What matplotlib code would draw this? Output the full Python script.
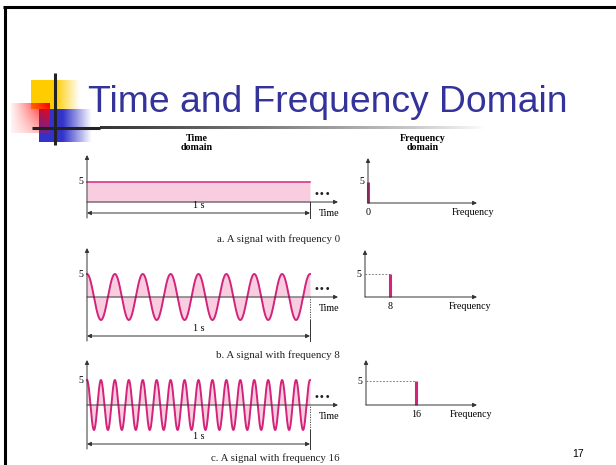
import numpy as np
import matplotlib
matplotlib.use("Agg")
import matplotlib.pyplot as plt

# chart data
freqs = [0, 8, 16]
amplitude = 5
duration = 1.0
captions = ["a. A signal with frequency 0",
            "b. A signal with frequency 8",
            "c. A signal with frequency 16"]
title = "Time and Frequency Domain"
page_no = "17"

W, H = 616, 465
MAGENTA = "#d4237a"
PINK = "#f9cde0"
AXC = "#333333"
SERIF = "Liberation Serif"
FS = 7.2

fig = plt.figure(figsize=(W / 100, H / 100), dpi=100)

# slide decoration in pixel space
deco = fig.add_axes([0, 0, 1, 1])
deco.axis("off")


def grad_img(ax, color, alpha, extent):
    rgba = np.zeros(alpha.shape + (4,))
    rgba[..., :3] = matplotlib.colors.to_rgb(color)
    rgba[..., 3] = alpha
    ax.imshow(rgba, extent=extent, aspect="auto", interpolation="bilinear", zorder=1)


xx = np.linspace(0, 1, 60)
yy = np.linspace(0, 1, 40)[:, None]
# yellow square
a = np.clip((1 - xx) / 0.5, 0, 1) * np.ones_like(yy)
grad_img(deco, "#ffcc00", a, (31, 80, 109, 81))
# blue square
a = np.clip((1 - xx) / 0.55, 0, 1) * np.ones_like(yy)
grad_img(deco, "#3333cc", a, (39, 92, 142, 109))
# red square
a = np.clip(xx ** 1.1 * (1 - 0.7 * yy) + 0.05, 0, 1)
grad_img(deco, "#ff0000", a, (11, 50, 133, 103))
# gradient rule under the title
a = np.linspace(1, 0, 200)[None, :] ** 0.8 * np.ones((3, 1))
grad_img(deco, "#333333", a, (100, 485, 129.5, 126.5))
deco.plot([32, 100], [128, 128], color="#222222", lw=2.2, solid_capstyle="butt", zorder=2)
deco.plot([55, 55], [73, 145], color="#222222", lw=2.2, solid_capstyle="butt", zorder=2)
# slide border (left and top)
deco.plot([4.5, 4.5], [465, 6], color="black", lw=2.2, solid_capstyle="butt")
deco.plot([3, 616], [7.5, 7.5], color="black", lw=2.2, solid_capstyle="butt")

deco.text(88, 112, title, fontsize=26.8, color="#333399", family="Liberation Sans",
          va="baseline", ha="left")
deco.text(197, 143, "Time\ndomain", ha="center", va="center", fontsize=7.2,
          fontweight="bold", family=SERIF, linespacing=0.9)
deco.text(423, 143, "Frequency\ndomain", ha="center", va="center", fontsize=7.2,
          fontweight="bold", family=SERIF, linespacing=0.9)
for cap, ypx in zip(captions, [239, 355, 458]):
    deco.text(340, ypx, cap, ha="right", va="center", fontsize=7.8, family=SERIF, color="#222")
deco.text(578, 454, page_no, ha="center", va="center", fontsize=7.5, family="Liberation Sans")
deco.set_xlim(0, W)
deco.set_ylim(H, 0)


def panel(x0, y0, sx, sy, xlim, ylim):
    left = x0 + xlim[0] * sx
    right = x0 + xlim[1] * sx
    top = y0 - ylim[1] * sy
    bottom = y0 - ylim[0] * sy
    ax = fig.add_axes([left / W, 1 - bottom / H, (right - left) / W, (bottom - top) / H])
    ax.set_xlim(*xlim)
    ax.set_ylim(*ylim)
    ax.axis("off")
    return ax


def arrow(ax, p0, p1, style="-|>"):
    ax.annotate("", xy=p1, xytext=p0,
                arrowprops=dict(arrowstyle=style, color=AXC, lw=0.7, mutation_scale=6,
                                shrinkA=0, shrinkB=0))


# layout of the three rows (pixels)
time_x0, time_sx = 87, 223
time_y0 = [202, 297, 405]
time_sy = [4.0, 4.6, 5.0]
time_top = [155, 248, 360]
bracket_px = [213, 336, 444]
freq_x0 = [368, 365, 366]
freq_sx = 3.1
freq_y0 = [203, 297, 405]
freq_sy = [4.2, 4.6, 4.8]
freq_top = [158, 250, 360]

t = np.linspace(0, duration, 3000)
for i, f in enumerate(freqs):
    # ---- time domain ----
    sy = time_sy[i]
    ax = panel(time_x0, time_y0[i], time_sx, sy, (-0.15, 1.4), (-12, 13))
    wave = amplitude * np.cos(2 * np.pi * f * t)
    ax.fill_between(t, 0, wave, color=PINK, lw=0)
    ax.plot(t, wave, color=MAGENTA, lw=1.4 if f else 1.1)
    ytop = (time_y0[i] - time_top[i]) / sy
    ybr = (time_y0[i] - bracket_px[i]) / sy
    ytick = ybr - 5 / sy
    arrow(ax, (0, ytick), (0, ytop))
    arrow(ax, (0, 0), ((338 - time_x0) / time_sx, 0))
    arrow(ax, (0, ybr), (duration, ybr), "<|-|>")
    lowest = min(0, wave.min())
    if lowest < 0:
        ax.plot([duration, duration], [lowest, 0], color=AXC, lw=0.6, ls=(0, (1.5, 1.5)))
    ax.plot([duration, duration], [min(lowest, 0), ytick], color=AXC, lw=0.7)
    ax.annotate("1 s", (duration / 2, ybr), xytext=(0, 2.5), textcoords="offset points",
                ha="center", va="bottom", fontsize=FS, family=SERIF)
    ax.annotate("Time", (1.04, 0), xytext=(0, -5), textcoords="offset points",
                ha="left", va="top", fontsize=FS, family=SERIF)
    ax.annotate("\u2022\u2022\u2022", (1.055, 0), xytext=(0, 2), textcoords="offset points",
                ha="center", va="bottom", fontsize=7, family="DejaVu Sans", color="#222")
    ax.annotate(str(amplitude), (0, amplitude), xytext=(-3, 0), textcoords="offset points",
                ha="right", va="center", fontsize=FS, family=SERIF)

    # ---- frequency domain ----
    fsy = freq_sy[i]
    fx = panel(freq_x0[i], freq_y0[i], freq_sx, fsy, (-8, 45), (-6, 12))
    arrow(fx, (0, 0), (0, (freq_y0[i] - freq_top[i]) / fsy))
    arrow(fx, (0, 0), ((477 - freq_x0[i]) / freq_sx, 0))
    if f:
        fx.plot([0, f], [amplitude, amplitude], color="#666666", lw=0.6, ls=(0, (2, 2)))
    fx.plot([f, f], [0, amplitude], color=MAGENTA, lw=2.2, solid_capstyle="butt")
    fx.annotate(str(amplitude), (0, amplitude), xytext=(-3, 0), textcoords="offset points",
                ha="right", va="center", fontsize=FS, family=SERIF)
    fx.annotate(str(f), (f, 0), xytext=(0, -3.5), textcoords="offset points",
                ha="center", va="top", fontsize=FS, family=SERIF)
    fx.annotate("Frequency", (27, 0), xytext=(0, -3.5), textcoords="offset points",
                ha="left", va="top", fontsize=FS, family=SERIF)

fig.savefig("out.png", dpi=100)
